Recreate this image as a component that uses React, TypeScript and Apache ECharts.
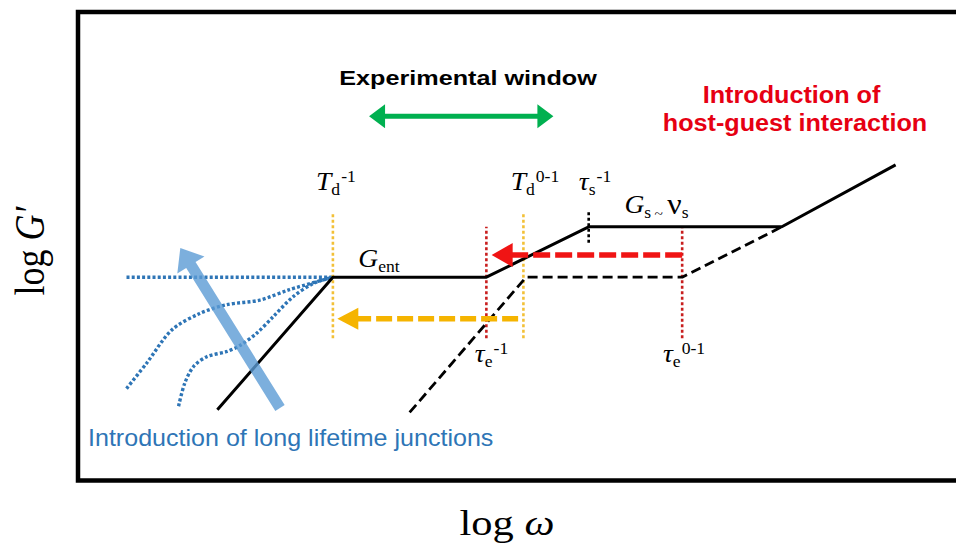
import React, { useEffect, useRef } from 'react';
import * as echarts from 'echarts';

// Storage modulus master curves in log–log units (log ω, log G′)
const solidLogW = [1.58, 2.89, 4.63, 5.79, 7.98, 9.27];
const solidLogG = [0.8, 2.3, 2.3, 2.87, 2.87, 3.57];

const dashedLogW = [3.76, 5.08, 6.85, 7.98];
const dashedLogG = [0.77, 2.3, 2.3, 2.87];

// Terminal regions with long-lifetime junctions (blue dotted)
const plateauTailLogW = [0.55, 2.89];
const plateauTailLogG = [2.3, 2.3];
const junctionALogW = [0.55, 0.78, 1.06, 1.38, 1.69, 2.06, 2.4, 2.89];
const junctionALogG = [1.04, 1.33, 1.7, 1.89, 1.99, 2.04, 2.16, 2.3];
const junctionBLogW = [1.14, 1.21, 1.31, 1.46, 1.69, 1.84, 2.03, 2.21, 2.44, 2.67, 2.89];
const junctionBLogG = [0.84, 1.1, 1.29, 1.4, 1.46, 1.53, 1.67, 1.85, 2.08, 2.23, 2.3];

// Characteristic frequencies (vertical guides) and their vertical extent
const tdLogW = [2.89, 5.05]; // T_d^-1, T_d^0-1
const teLogW = [4.63, 6.85]; // τ_e^-1, τ_e^0-1
const tsLogW = [5.79]; // τ_s^-1
const tdGuideLogG = [1.61, 3.04];
const teGuideLogG = [1.61, 2.87];
const tsGuideLogG = [2.69, 3.06];

// Arrows: [from log ω, from log G′, to log ω, to log G′]
const hostGuestShift = [6.85, 2.55, 4.69, 2.55];
const junctionShift = [4.99, 1.83, 2.94, 1.83];
const experimentalWindow = [3.3, 4.12, 5.39, 4.12];
const junctionTrend = [2.29, 0.82, 1.16, 2.63];

const SERIF = '"Liberation Serif", "Times New Roman", serif';
const SANS = '"Liberation Sans", Arial, sans-serif';

const pairs = (xs: number[], ys: number[]) => xs.map((x, i) => [x, ys[i]]);

function polyline(xs: number[], ys: number[], color: string, width: number, type: any, extra: any = {}) {
  return {
    type: 'line',
    data: pairs(xs, ys),
    symbol: 'none',
    silent: true,
    lineStyle: { color, width, type, cap: 'butt' },
    ...extra,
  };
}

function verticalGuides(xs: number[], range: number[], color: string) {
  return xs.map((x) => polyline([x, x], range, color, 2.6, [3, 2.5], { z: 3 }));
}

function arrow(
  seg: number[],
  color: string,
  opts: { width: number; headLen: number; headWidth: number; dash?: number[]; both?: boolean; z?: number }
) {
  return {
    type: 'custom',
    coordinateSystem: 'cartesian2d',
    silent: true,
    clip: false,
    z: opts.z ?? 6,
    encode: { x: [0, 2], y: [1, 3] },
    data: [seg],
    renderItem: (_p: any, api: any) => {
      const a = api.coord([api.value(0), api.value(1)]);
      const b = api.coord([api.value(2), api.value(3)]);
      const dx = b[0] - a[0];
      const dy = b[1] - a[1];
      const len = Math.hypot(dx, dy);
      const ux = dx / len;
      const uy = dy / len;
      const nx = -uy;
      const ny = ux;
      const H = opts.headLen;
      const h = opts.headWidth / 2;
      const w = opts.width / 2;
      const at = (p: number[], s: number, t: number) => [p[0] + ux * s + nx * t, p[1] + uy * s + ny * t];
      if (opts.dash) {
        const base = at(b, -H, 0);
        const shaftEnd = at(b, -H + 1, 0);
        return {
          type: 'group',
          children: [
            {
              type: 'line',
              shape: { x1: a[0], y1: a[1], x2: shaftEnd[0], y2: shaftEnd[1] },
              style: { stroke: color, lineWidth: opts.width, lineDash: opts.dash, lineCap: 'butt' },
            },
            {
              type: 'polygon',
              shape: { points: [b, at(base, 0, h), at(base, 0, -h)] },
              style: { fill: color },
            },
          ],
        };
      }
      const points = opts.both
        ? [
            at(a, H, w), at(b, -H, w), at(b, -H, h), b, at(b, -H, -h), at(b, -H, -w),
            at(a, H, -w), at(a, H, -h), a, at(a, H, h),
          ]
        : [at(a, 0, w), at(b, -H, w), at(b, -H, h), b, at(b, -H, -h), at(b, -H, -w), at(a, 0, -w)];
      return { type: 'polygon', shape: { points }, style: { fill: color } };
    },
  };
}

const mathRich = {
  m: { fontFamily: SERIF, fontSize: 25, fontStyle: 'italic', lineHeight: 33, fill: '#000' },
  nu: { fontFamily: SERIF, fontSize: 29, lineHeight: 33, padding: [0, 0, 0, 1], fill: '#000' },
  sub: { fontFamily: SERIF, fontSize: 16, verticalAlign: 'bottom', fill: '#000' },
  sup: { fontFamily: SERIF, fontSize: 16, verticalAlign: 'top', padding: [4, 0, 0, 1], fill: '#000' },
  tl: { fontFamily: SERIF, fontSize: 14, verticalAlign: 'bottom', padding: [0, 3, 0, 3], fill: '#000' },
};

// Symbol annotations anchored in log ω / log G′ space
const annotations = [
  { text: '{m|T}{sub|d}{sup|-1}', at: [2.925, 3.382] },
  { text: '{m|T}{sub|d}{sup|0-1}', at: [5.181, 3.382] },
  { text: '{m|τ}{sub|s}{sup|-1}', at: [5.862, 3.381] },
  { text: '{m|G}{sub|s}{tl|~}{nu|ν}{sub|s}', at: [6.559, 3.121] },
  { text: '{m|G}{sub|ent}', at: [3.413, 2.51] },
  { text: '{m|τ}{sub|e}{sup|-1}', at: [4.688, 1.436] },
  { text: '{m|τ}{sub|e}{sup|0-1}', at: [6.871, 1.436] },
];

function buildOption() {
  return {
    animation: false,
    backgroundColor: '#fff',
    grid: {
      left: 78,
      top: 12,
      width: 882,
      height: 468.5,
      show: true,
      borderColor: '#000',
      borderWidth: 4.5,
      backgroundColor: '#fff',
    },
    xAxis: { type: 'value', min: 0, max: 10, show: false },
    yAxis: { type: 'value', min: 0, max: 5.3, show: false },
    series: [
      ...verticalGuides(tdLogW, tdGuideLogG, '#f2c037'),
      ...verticalGuides(teLogW, teGuideLogG, '#c81e1e'),
      ...verticalGuides(tsLogW, tsGuideLogG, '#000'),
      polyline(plateauTailLogW, plateauTailLogG, '#2e75b6', 3.4, [3, 2.2], { z: 2 }),
      polyline(junctionALogW, junctionALogG, '#2e75b6', 3.4, [3, 2.2], { z: 2, smooth: 0.3 }),
      polyline(junctionBLogW, junctionBLogG, '#2e75b6', 3.4, [3, 2.2], { z: 2, smooth: 0.3 }),
      polyline(dashedLogW, dashedLogG, '#000', 2.8, [10, 5], { z: 4 }),
      polyline(solidLogW, solidLogG, '#000', 3, 'solid', { z: 4 }),
      arrow(hostGuestShift, '#f01414', { width: 5.5, headLen: 21, headWidth: 24, dash: [17, 5] }),
      arrow(junctionShift, '#f5b400', { width: 5.5, headLen: 21, headWidth: 22, dash: [16, 5] }),
      arrow(experimentalWindow, '#00b050', { width: 5, headLen: 16, headWidth: 24, both: true }),
      arrow(junctionTrend, 'rgba(91,155,213,0.8)', { width: 11, headLen: 20, headWidth: 32, z: 7 }),
    ],
  };
}

function buildTexts(chart: any) {
  const toPx = (p: number[]) => chart.convertToPixel({ gridIndex: 0 }, p);
  const labels = annotations.map((a) => {
    const [x, y] = toPx(a.at);
    return {
      type: 'text',
      x,
      y,
      scaleX: 1.1,
      z: 20,
      silent: true,
      style: { text: a.text, rich: mathRich, align: 'center', verticalAlign: 'middle' },
    };
  });
  const titles = [
    {
      type: 'text', x: 468, y: 77.5, scaleX: 1.2, z: 20, silent: true,
      style: { text: 'Experimental window', fontFamily: SANS, fontSize: 21, fontWeight: 'bold', fill: '#000', align: 'center', verticalAlign: 'middle' },
    },
    {
      type: 'text', x: 791.5, y: 94.7, scaleX: 1.05, z: 20, silent: true,
      style: { text: 'Introduction of', fontFamily: SANS, fontSize: 24, fontWeight: 'bold', fill: '#e60012', align: 'center', verticalAlign: 'middle' },
    },
    {
      type: 'text', x: 795, y: 123, scaleX: 1.05, z: 20, silent: true,
      style: { text: 'host-guest interaction', fontFamily: SANS, fontSize: 24, fontWeight: 'bold', fill: '#e60012', align: 'center', verticalAlign: 'middle' },
    },
    {
      type: 'text', x: 88, y: 438, scaleX: 1.09, z: 20, silent: true,
      style: { text: 'Introduction of long lifetime junctions', fontFamily: SANS, fontSize: 23, fill: '#2e75b6', align: 'left', verticalAlign: 'middle' },
    },
    {
      type: 'text', x: 507, y: 522.8, scaleX: 1.18, z: 20, silent: true,
      style: {
        text: '{u|log }{i|ω}',
        rich: {
          u: { fontFamily: SERIF, fontSize: 36, fill: '#000' },
          i: { fontFamily: SERIF, fontSize: 36, fontStyle: 'italic', fill: '#000' },
        },
        align: 'center',
        verticalAlign: 'middle',
      },
    },
    {
      type: 'text', x: 29.7, y: 251, rotation: Math.PI / 2, scaleY: 1.18, z: 20, silent: true,
      style: {
        text: '{u|log }{i|G′}',
        rich: {
          u: { fontFamily: SERIF, fontSize: 36, fill: '#000' },
          i: { fontFamily: SERIF, fontSize: 36, fontStyle: 'italic', fill: '#000' },
        },
        align: 'center',
        verticalAlign: 'middle',
      },
    },
  ];
  return [...labels, ...titles];
}

export default function App() {
  const ref = useRef<HTMLDivElement>(null);
  useEffect(() => {
    const chart = echarts.init(ref.current!, null, { renderer: 'svg' });
    chart.setOption(buildOption() as any);
    chart.setOption({ graphic: buildTexts(chart) } as any);
    return () => chart.dispose();
  }, []);
  // The frame's right edge runs past the visible area, so the chart is wider than its clipping box.
  return (
    <div style={{ position: 'absolute', left: 0, top: 0, width: 956, height: 548, overflow: 'hidden', background: '#fff' }}>
      <div ref={ref} style={{ width: 972, height: 548 }} />
    </div>
  );
}
